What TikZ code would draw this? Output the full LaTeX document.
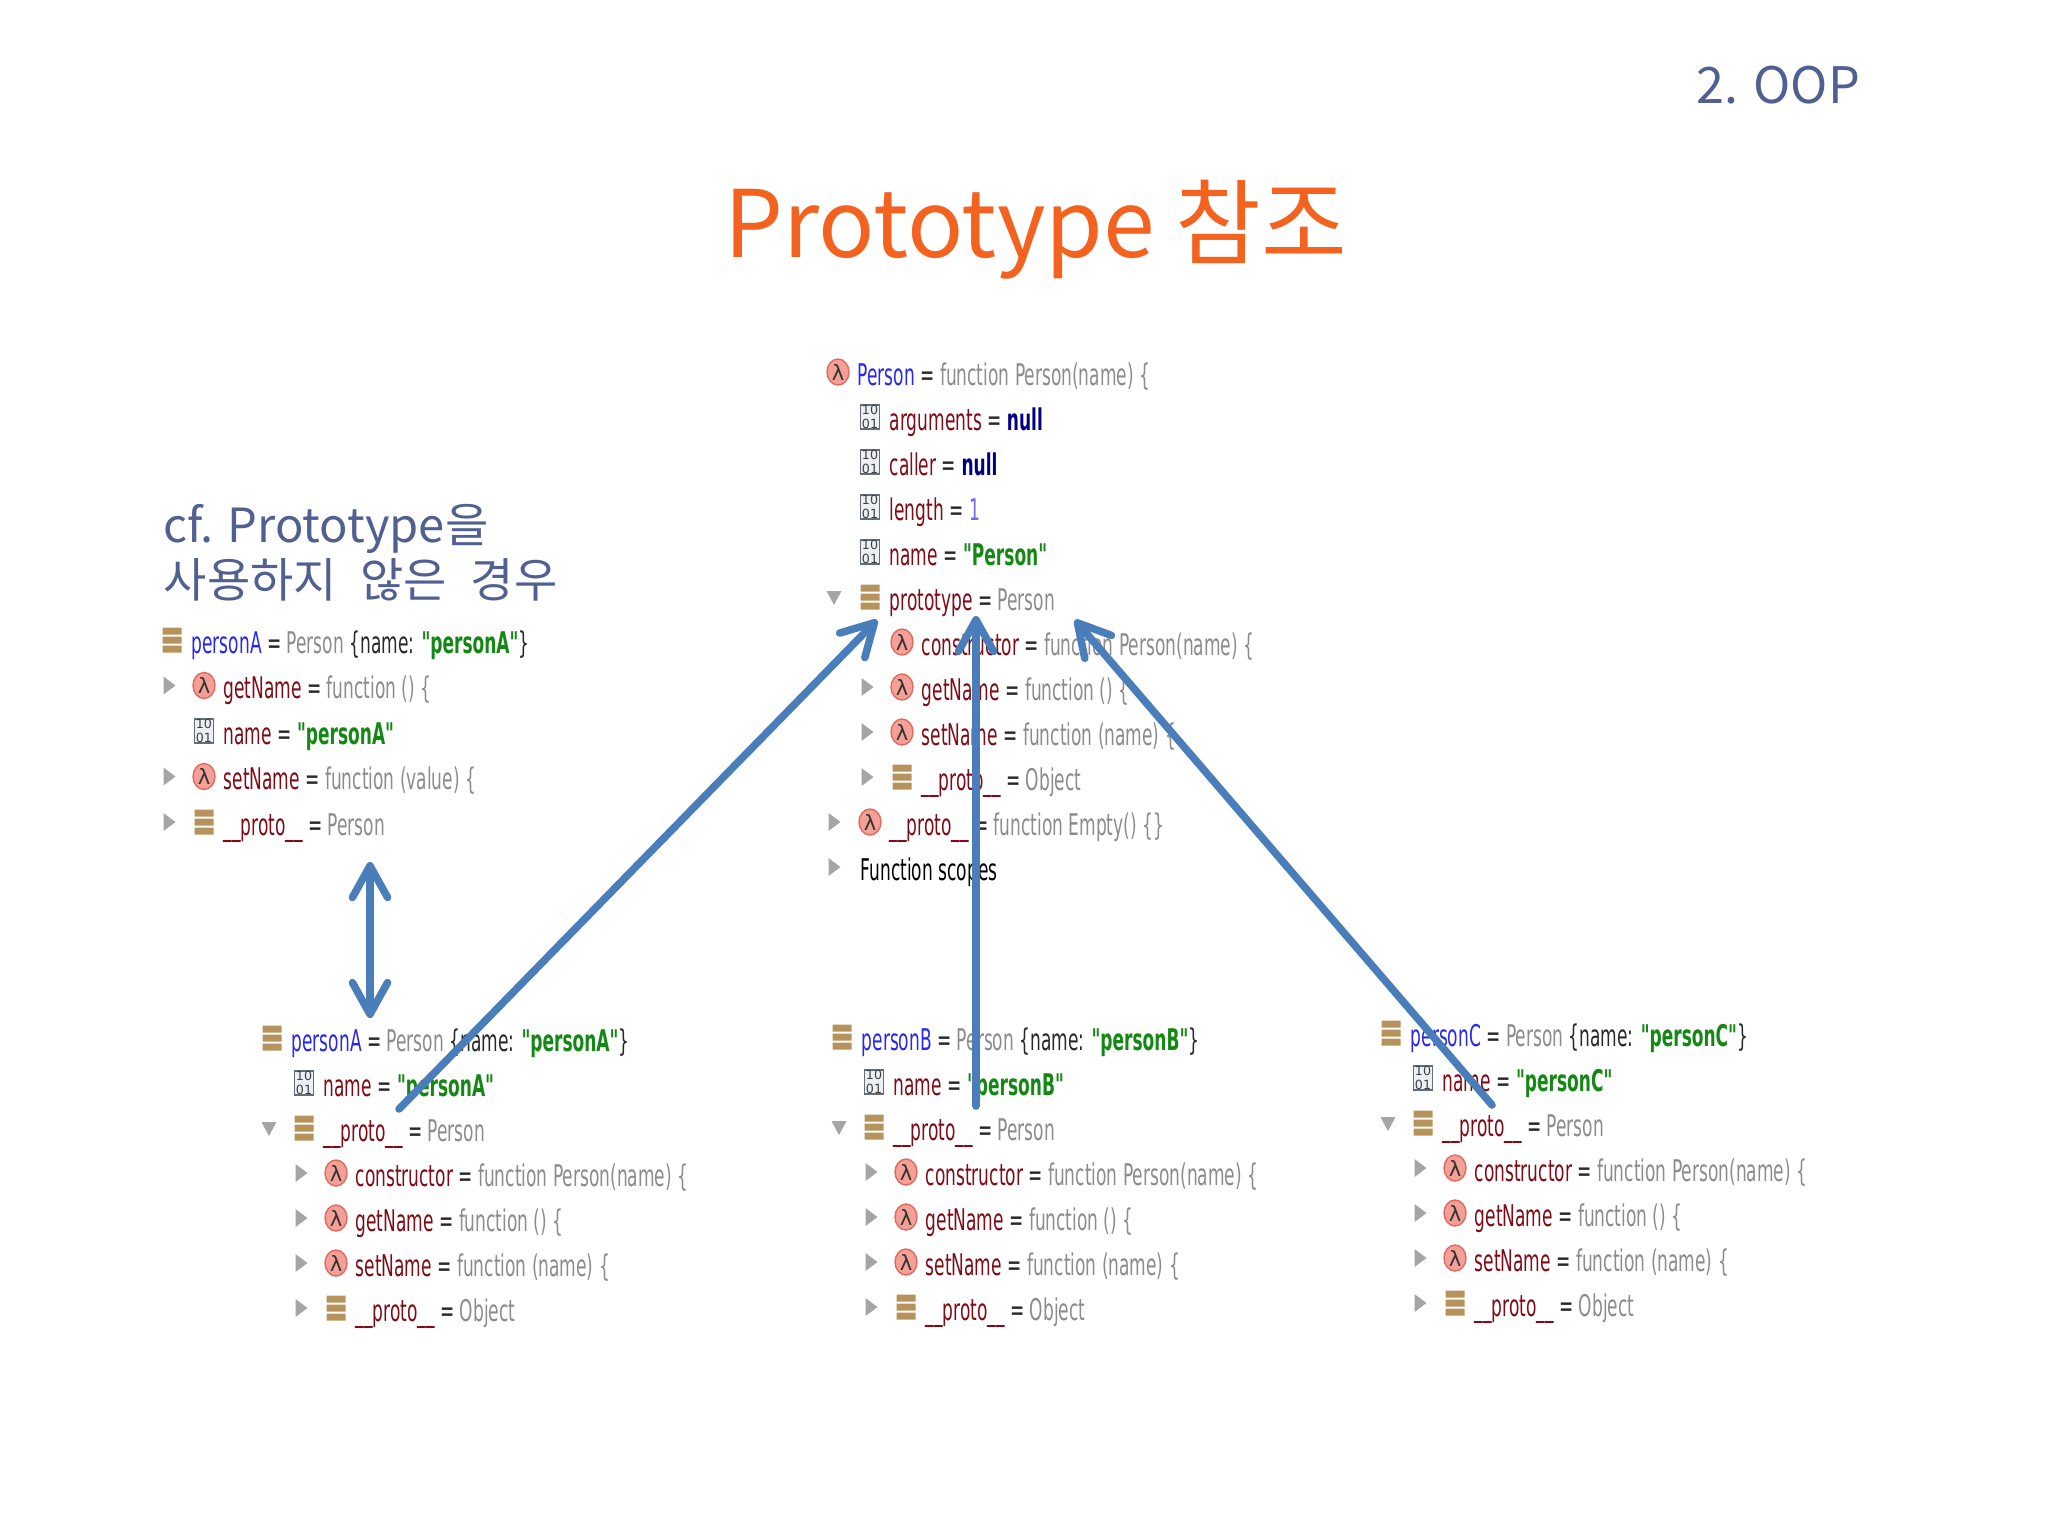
\documentclass[tikz,border=0pt]{standalone}
\usepackage{fontspec}
\usepackage{tikz}
\usetikzlibrary{arrows.meta}
\newfontfamily\krfont{Noto Sans CJK KR}
\newfontfamily\codefont[FakeStretch=0.57]{DejaVu Sans}
\newfontfamily\iconfont{DejaVu Sans}

\definecolor{titleorange}{RGB}{244,98,32}
\definecolor{slate}{RGB}{80,96,145}
\definecolor{arrowblue}{RGB}{74,126,187}
\definecolor{rootblue}{RGB}{40,40,235}
\definecolor{namered}{RGB}{125,12,22}
\definecolor{valgray}{RGB}{140,140,140}
\definecolor{strgreen}{RGB}{20,135,20}
\definecolor{nullnavy}{RGB}{0,0,128}
\definecolor{numblue}{RGB}{105,105,250}
\definecolor{eqdark}{RGB}{40,40,40}
\definecolor{lamfill}{RGB}{245,160,150}
\definecolor{lamedge}{RGB}{225,105,95}
\definecolor{objtan}{RGB}{182,146,92}
\definecolor{trigray}{RGB}{165,165,165}
\definecolor{boxedge}{RGB}{100,108,120}
\definecolor{boxfill}{RGB}{236,240,245}

\newcommand\jsroot[1]{\textcolor{rootblue}{#1}}
\newcommand\jsname[1]{\textcolor{namered}{#1}}
\newcommand\jsval[1]{\textcolor{valgray}{#1}}
\newcommand\jsstr[1]{\textcolor{strgreen}{\bfseries #1}}
\newcommand\jsnull[1]{\textcolor{nullnavy}{\bfseries #1}}
\newcommand\jsnum[1]{\textcolor{numblue}{#1}}

\tikzset{
  code/.style={anchor=base west, inner sep=0pt, text=eqdark, font=\codefont\fontsize{8.5}{10}\selectfont},
  heading/.style={anchor=base west, inner sep=0pt, align=left},
  arr/.style={draw=arrowblue, line width=2.15pt, line cap=round},
  lam/.pic={
    \draw[lamedge, fill=lamfill, line width=0.4pt] (0,0) ellipse [x radius=11, y radius=13];
    \node[text=black!80, font=\iconfont\fontsize{6}{6}\selectfont, inner sep=0pt] (sym) at (0,0) {λ};
  },
  num/.pic={
    \draw[boxedge, fill=boxfill, line width=0.5pt] (-9.5,-12) rectangle (9.5,12);
    \node[text=black!75, font=\iconfont\fontsize{3.6}{3.9}\selectfont, align=center, inner sep=0pt] (digits) at (0,0) {10\\01};
  },
  obj/.pic={
    \fill[objtan] (-9.5,-12.5) rectangle (9.5,-5.5) (-9.5,-3.5) rectangle (9.5,3.5) (-9.5,5.5) rectangle (9.5,12.5);
  },
  tr/.pic={\fill[trigray] (-5.5,-9) -- (6.5,0) -- (-5.5,9) -- cycle;},
  td/.pic={\fill[trigray] (-7.5,-6) -- (7.5,-6) -- (0,8) -- cycle;}
}

\begin{document}
\begin{tikzpicture}[x=0.1mm, y=-0.1mm]

\fill[white] (0,0) rectangle (2048,1536);
\useasboundingbox (0,0) rectangle (2048,1536);

%headings
\node[heading, text=slate, font=\krfont\fontsize{14.3}{16}\selectfont] (secLabel) at (1696,103) {2. OOP};
\node[heading, text=titleorange, font=\krfont\fontsize{26.5}{30}\selectfont] (titleText) at (724,257) {Prototype 참조};
\node[heading, text=slate, font=\krfont\fontsize{13.4}{15.4}\selectfont] (cfNote) at (163,597) {cf. Prototype을\\사용하지\hspace{0.5em}않은\hspace{0.5em}경우};

%personA without prototype
\begin{scope}[shift={(172,640)}]
\pic at (0,0) {obj};
\node[code] (laRoot) at (19,13) {\jsroot{personA} = \jsval{Person} \{name: \jsstr{"personA"}\}};
\pic at (-3,45.5) {tr}; \pic at (32,45.5) {lam};
\node[code] (laGet) at (51,58.5) {\jsname{getName} = \jsval{function () \{}};
\pic at (32,91) {num};
\node[code] (laName) at (51,104) {\jsname{name} = \jsstr{"personA"}};
\pic at (-3,136.5) {tr}; \pic at (32,136.5) {lam};
\node[code] (laSet) at (51,149.5) {\jsname{setName} = \jsval{function (value) \{}};
\pic at (-3,182) {tr}; \pic at (32,182) {obj};
\node[code] (laProto) at (51,195) {\jsname{\_\_proto\_\_} = \jsval{Person}};
\end{scope}

%Person function
\begin{scope}[shift={(838,372)}]
\pic at (0,0) {lam};
\node[code] (pRoot) at (19,13) {\jsroot{Person} = \jsval{function Person(name) \{}};
\pic at (32,45) {num};
\node[code] (pArgs) at (51,58) {\jsname{arguments} = \jsnull{null}};
\pic at (32,90) {num};
\node[code] (pCaller) at (51,103) {\jsname{caller} = \jsnull{null}};
\pic at (32,135) {num};
\node[code] (pLength) at (51,148) {\jsname{length} = \jsnum{1}};
\pic at (32,180) {num};
\node[code] (pName) at (51,193) {\jsname{name} = \jsstr{"Person"}};
\pic at (-4,225) {td}; \pic at (32,225) {obj};
\node[code] (pProto) at (51,238) {\jsname{prototype} = \jsval{Person}};
\pic at (64,270) {lam};
\node[code] (pCons) at (83,283) {\jsname{constructor} = \jsval{function Person(name) \{}};
\pic at (29,315) {tr}; \pic at (64,315) {lam};
\node[code] (pGet) at (83,328) {\jsname{getName} = \jsval{function () \{}};
\pic at (29,360) {tr}; \pic at (64,360) {lam};
\node[code] (pSet) at (83,373) {\jsname{setName} = \jsval{function (name) \{}};
\pic at (29,405) {tr}; \pic at (64,405) {obj};
\node[code] (pObj) at (83,418) {\jsname{\_\_proto\_\_} = \jsval{Object}};
\pic at (-4,450) {tr}; \pic at (32,450) {lam};
\node[code] (pEmpty) at (51,463) {\jsname{\_\_proto\_\_} = \jsval{function Empty() \{\}}};
\pic at (-4,495) {tr};
\node[code, text=black] (pScopes) at (22,508) {Function scopes};
\end{scope}

%personA
\begin{scope}[shift={(272,1038)}]
\pic at (0,0) {obj};
\node[code] (aRoot) at (19,13) {\jsroot{personA} = \jsval{Person} \{name: \jsstr{"personA"}\}};
\pic at (32,45) {num};
\node[code] (aName) at (51,58) {\jsname{name} = \jsstr{"personA"}};
\pic at (-3,90) {td}; \pic at (32,90) {obj};
\node[code] (aProto) at (51,103) {\jsname{\_\_proto\_\_} = \jsval{Person}};
\pic at (29,135) {tr}; \pic at (64,135) {lam};
\node[code] (aCons) at (83,148) {\jsname{constructor} = \jsval{function Person(name) \{}};
\pic at (29,180) {tr}; \pic at (64,180) {lam};
\node[code] (aGet) at (83,193) {\jsname{getName} = \jsval{function () \{}};
\pic at (29,225) {tr}; \pic at (64,225) {lam};
\node[code] (aSet) at (83,238) {\jsname{setName} = \jsval{function (name) \{}};
\pic at (29,270) {tr}; \pic at (64,270) {obj};
\node[code] (aObj) at (83,283) {\jsname{\_\_proto\_\_} = \jsval{Object}};
\end{scope}

%personB
\begin{scope}[shift={(842,1037)}]
\pic at (0,0) {obj};
\node[code] (bRoot) at (19,13) {\jsroot{personB} = \jsval{Person} \{name: \jsstr{"personB"}\}};
\pic at (32,45) {num};
\node[code] (bName) at (51,58) {\jsname{name} = \jsstr{"personB"}};
\pic at (-3,90) {td}; \pic at (32,90) {obj};
\node[code] (bProto) at (51,103) {\jsname{\_\_proto\_\_} = \jsval{Person}};
\pic at (29,135) {tr}; \pic at (64,135) {lam};
\node[code] (bCons) at (83,148) {\jsname{constructor} = \jsval{function Person(name) \{}};
\pic at (29,180) {tr}; \pic at (64,180) {lam};
\node[code] (bGet) at (83,193) {\jsname{getName} = \jsval{function () \{}};
\pic at (29,225) {tr}; \pic at (64,225) {lam};
\node[code] (bSet) at (83,238) {\jsname{setName} = \jsval{function (name) \{}};
\pic at (29,270) {tr}; \pic at (64,270) {obj};
\node[code] (bObj) at (83,283) {\jsname{\_\_proto\_\_} = \jsval{Object}};
\end{scope}

%personC
\begin{scope}[shift={(1391,1033)}]
\pic at (0,0) {obj};
\node[code] (cRoot) at (19,13) {\jsroot{personC} = \jsval{Person} \{name: \jsstr{"personC"}\}};
\pic at (32,45) {num};
\node[code] (cName) at (51,58) {\jsname{name} = \jsstr{"personC"}};
\pic at (-3,90) {td}; \pic at (32,90) {obj};
\node[code] (cProto) at (51,103) {\jsname{\_\_proto\_\_} = \jsval{Person}};
\pic at (29,135) {tr}; \pic at (64,135) {lam};
\node[code] (cCons) at (83,148) {\jsname{constructor} = \jsval{function Person(name) \{}};
\pic at (29,180) {tr}; \pic at (64,180) {lam};
\node[code] (cGet) at (83,193) {\jsname{getName} = \jsval{function () \{}};
\pic at (29,225) {tr}; \pic at (64,225) {lam};
\node[code] (cSet) at (83,238) {\jsname{setName} = \jsval{function (name) \{}};
\pic at (29,270) {tr}; \pic at (64,270) {obj};
\node[code] (cObj) at (83,283) {\jsname{\_\_proto\_\_} = \jsval{Object}};
\end{scope}

%arrows
\coordinate (dblTop) at (370,862);
\coordinate (dblBot) at (370,1018);
\coordinate (aFrom) at (399,1109);
\coordinate (aTo) at (877,620);
\coordinate (bFrom) at (976,1106);
\coordinate (bTo) at (976,616);
\coordinate (cFrom) at (1492,1105);
\coordinate (cTo) at (1075,620);

\draw[arr, {Straight Barb[round, length=9pt, width=10pt]}-{Straight Barb[round, length=9pt, width=10pt]}] (dblTop) -- (dblBot);
\draw[arr, -{Straight Barb[round, length=9pt, width=10pt]}] (aFrom) -- (aTo);
\draw[arr, -{Straight Barb[round, length=9pt, width=10pt]}] (bFrom) -- (bTo);
\draw[arr, -{Straight Barb[round, length=9pt, width=10pt]}] (cFrom) -- (cTo);

\end{tikzpicture}
\end{document}
